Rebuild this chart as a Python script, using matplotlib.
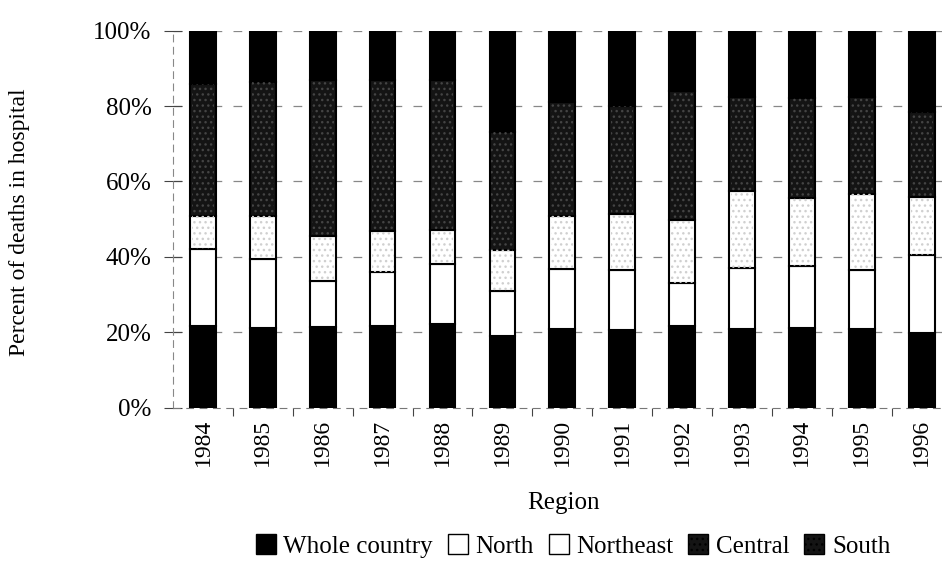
import matplotlib
matplotlib.use("Agg")
import matplotlib.pyplot as plt
from matplotlib.patches import Patch
import numpy as np

years = ["1984", "1985", "1986", "1987", "1988", "1989", "1990",
         "1991", "1992", "1993", "1994", "1995", "1996"]
# cumulative tops (percent)
whole_country = [21.6, 21.2, 21.5, 21.8, 22.1, 19.1, 20.9, 20.7, 21.8, 20.9, 21.2, 20.9, 19.9]
north_top     = [42.2, 39.4, 33.6, 36.0, 38.0, 30.9, 36.7, 36.5, 33.2, 37.1, 37.6, 36.5, 40.4]
northeast_top = [50.9, 50.9, 45.6, 46.9, 47.2, 41.8, 50.9, 51.3, 49.7, 57.5, 55.5, 56.8, 55.8]
central_top   = [85.9, 86.4, 86.8, 86.8, 86.8, 73.0, 81.2, 80.1, 83.9, 82.5, 82.2, 82.4, 78.4]

wc = np.array(whole_country)
north = np.array(north_top) - wc
northeast = np.array(northeast_top) - np.array(north_top)
central = np.array(central_top) - np.array(northeast_top)
south = 100 - np.array(central_top)

series = [
    ("Whole country", wc, "#000000", None, None),
    ("North", north, "#ffffff", None, None),
    ("Northeast", northeast, "#ffffff", "...", "#d0d0d0"),
    ("Central", central, "#141414", "...", "#444444"),
    ("South", south, "#000000", None, None),
]

plt.rcParams["font.family"] = ["Liberation Serif", "DejaVu Serif"]
plt.rcParams["hatch.linewidth"] = 1.0

fig = plt.figure(figsize=(9.42, 5.81), dpi=100)
ax = fig.add_axes([173/942, 1-407.7/581, 1-173/942, (407.7-30.7)/581])

x = np.arange(len(years))
w = 0.43
bottom = np.zeros(len(years))
for name, vals, fc, hatch, hc in series:
    ax.bar(x, vals, w, bottom=bottom, color=fc, edgecolor="black", linewidth=1.5, zorder=3)
    if hatch:
        ax.bar(x, vals, w * 0.85, bottom=bottom, color="none", edgecolor=hc,
               hatch=hatch, linewidth=0, zorder=4)
    bottom = bottom + vals

ax.set_xlim(-0.5, 12.34)
ax.set_ylim(0, 100)
ax.set_yticks([0, 20, 40, 60, 80, 100])
ax.set_yticklabels(["0%", "20%", "40%", "60%", "80%", "100%"])
ax.set_xticks(x)
ax.set_xticklabels(years, rotation=90, va="top", ha="center")
ax.set_xticks(np.arange(len(years) - 1) + 0.5, minor=True)

ax.tick_params(axis="y", direction="inout", length=13, width=0.8, labelsize=18, pad=9, color="#444444")
ax.tick_params(axis="x", which="major", length=0, labelsize=17, pad=8)
ax.tick_params(axis="x", which="minor", length=6, width=0.8, direction="out", color="#444444")

for y in [20, 40, 60, 80, 100]:
    ax.axhline(y, color="#888888", lw=0.9, ls=(0, (7, 9)), zorder=1)

for s in ["top", "right"]:
    ax.spines[s].set_visible(False)
ax.spines["left"].set_color("#888888")
ax.spines["left"].set_linestyle((0, (6, 5)))
ax.spines["left"].set_linewidth(0.8)
ax.spines["bottom"].set_color("#777777")
ax.spines["bottom"].set_linestyle((0, (6, 6)))
ax.spines["bottom"].set_linewidth(0.8)

fig.text(20/942, 1-222/581, "Percent of deaths in hospital", rotation=90,
         ha="center", va="center", fontsize=17)
fig.text(563/942, 1-503/581, "Region", ha="center", va="center", fontsize=18)

handles = []
for name, vals, fc, hatch, hc in series:
    if name in ("Central", "South"):
        handles.append(Patch(facecolor="#141414", edgecolor="black", hatch="...", label=name))
    else:
        handles.append(Patch(facecolor=fc, edgecolor="black", label=name))
fig.legend(handles=handles, loc="center", bbox_to_anchor=(573/942, 1-546/581), ncol=5,
           frameon=False, fontsize=18, handlelength=0.8, handleheight=0.8,
           handletextpad=0.3, columnspacing=0.6, borderpad=0)

fig.savefig("out.png", dpi=100)
